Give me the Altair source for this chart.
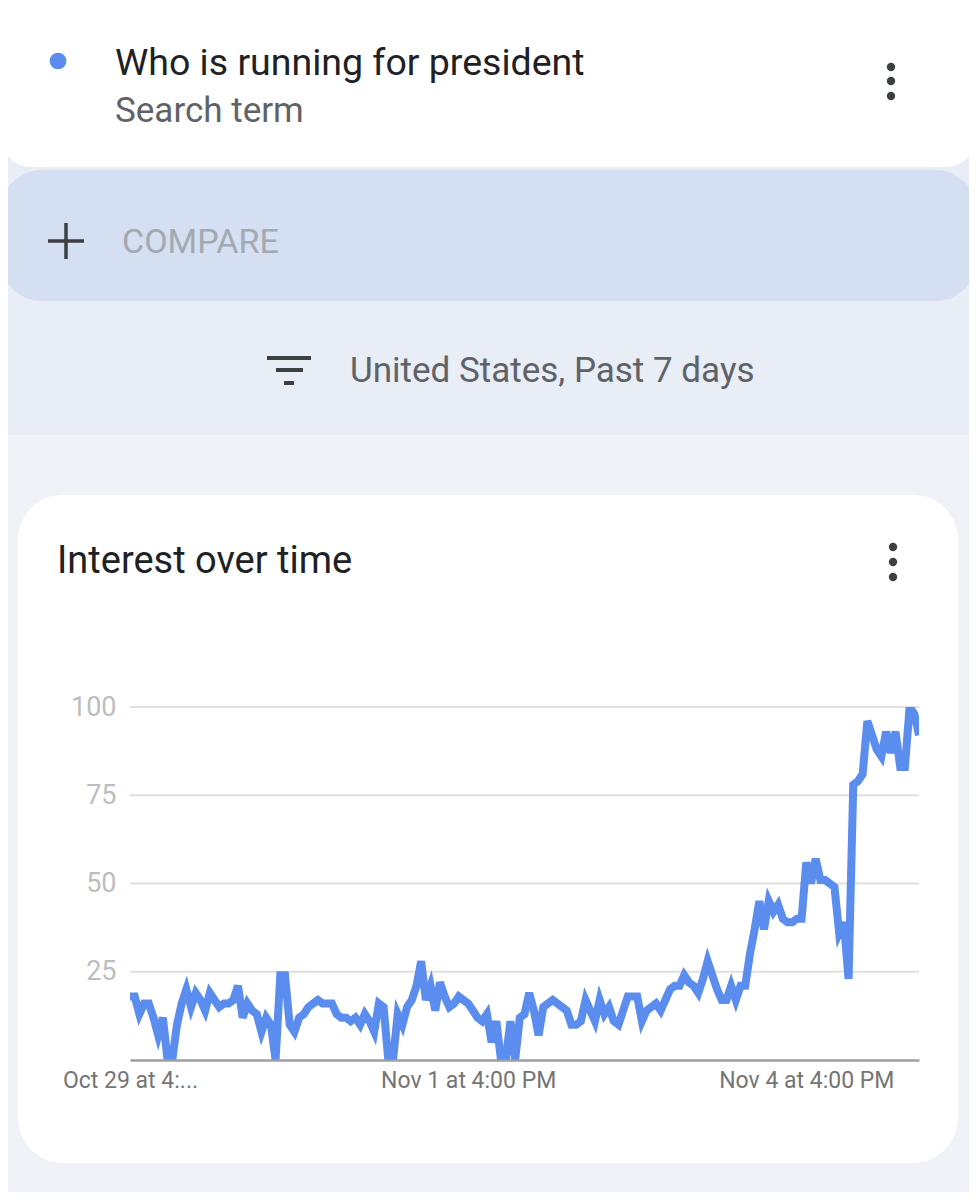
import altair as alt
import pandas as pd

# ---------------- data ----------------
hours = list(range(169))  # hourly steps from Oct 29 4:00 PM
interest = [
    18, 18, 13, 16, 16, 12, 7, 12, 0, 0,
    10, 16, 20, 15, 19, 17, 14, 19, 17, 15,
    16, 16, 17, 21, 12, 16, 14, 13, 8, 12,
    10, 0, 24, 24, 10, 8, 12, 13, 15, 16,
    17, 16, 16, 16, 13, 12, 12, 11, 12, 10,
    13, 11, 8, 16, 15, 0, 0, 13, 10, 15,
    17, 21, 28, 17, 21, 14, 22, 18, 15, 16,
    18, 17, 16, 14, 12, 11, 13, 5, 11, 0,
    0, 11, 0, 12, 13, 19, 14, 7, 15, 16,
    17, 16, 15, 14, 10, 10, 11, 17, 14, 11,
    17, 13, 15, 11, 10, 14, 18, 18, 18, 11,
    14, 15, 16, 14, 17, 20, 21, 21, 24, 22,
    21, 19, 23, 28, 24, 20, 17, 17, 21, 17,
    21, 21, 30, 37, 45, 37, 45, 42, 44, 40,
    39, 39, 40, 40, 56, 50, 57, 51, 51, 50,
    49, 36, 39, 23, 78, 79, 81, 96, 92, 88,
    86, 93, 87, 93, 83, 83, 100, 98, 92,
]
grid_values = [25, 50, 75, 100]
y_tick_values = [0, 25, 50, 75, 100]
x_tick_values = [0, 72, 144]
x_tick_labels = ["Oct 29 at 4:...", "Nov 1 at 4:00 PM", "Nov 4 at 4:00 PM"]

search_term = "Who is running for president"
search_sub = "Search term"
compare_text = "COMPARE"
filter_text = "United States, Past 7 days"
card_title = "Interest over time"

df = pd.DataFrame({"hour": hours, "interest": interest})
gdf = pd.DataFrame({"g": grid_values})

# ---------------- layout helpers ----------------
W, H = 789, 353           # plot area
PL, PT = 122, 699         # plot origin on canvas
CW, CH = 961, 1184        # canvas
OX, OY = PL + 8, PT + 8   # reference-pixel offset of plot origin

BLUE = "#5A8DEE"
DARK = "#3C4043"
one = alt.Data(values=[{"d": 0}])


def X(v):
    return alt.value(v - OX)


def Y(v):
    return alt.value(v - OY)


def rect(x0, x1, y0, y1, color, radius=0):
    return alt.Chart(one).mark_rect(color=color, cornerRadius=radius).encode(
        x=X(x0), x2=X(x1), y=Y(y0), y2=Y(y1))


def text(s, x, y, size, color, weight="normal"):
    return alt.Chart(one).mark_text(
        text=s, align="left", baseline="alphabetic", font="Roboto",
        fontSize=size, color=color, fontWeight=weight).encode(x=X(x), y=Y(y))


def dot(x, y, size, color):
    return alt.Chart(one).mark_circle(size=size, color=color, opacity=1).encode(
        x=X(x), y=Y(y))


def hline(x0, x1, y, color, w):
    return alt.Chart(one).mark_rule(color=color, strokeWidth=w).encode(
        x=X(x0), x2=X(x1), y=Y(y))


def vline(x, y0, y1, color, w):
    return alt.Chart(one).mark_rule(color=color, strokeWidth=w).encode(
        x=X(x), y=Y(y0), y2=Y(y1))


deco = [
    rect(0, 977, 0, 435, "#E9EDF6"),
    rect(0, 977, -40, 167, "#FFFFFF", 32),
    rect(0, 977, 170, 301, "#D4DFF1", 42),
    rect(18, 958, 495, 1163, "#FFFFFF", 45),
    dot(58, 61, 280, BLUE),
    text(search_term, 115, 75, 37.5, "#202124"),
    text(search_sub, 115, 122, 35, "#5F6368"),
    dot(891, 67, 70, DARK), dot(891, 81, 70, DARK), dot(891, 96, 70, DARK),
    hline(48, 84, 241, DARK, 3.5),
    vline(66, 223, 259, DARK, 3.5),
    text(compare_text, 122, 253, 34, "#A3A9B1"),
    hline(267, 311, 358, DARK, 4),
    hline(276, 303, 370, DARK, 4),
    hline(284, 294, 383, DARK, 4),
    text(filter_text, 350, 382, 35, "#5F6368"),
    text(card_title, 57, 573, 38, "#202124"),
    dot(893, 547, 70, DARK), dot(893, 562, 70, DARK), dot(893, 577, 70, DARK),
]

label_expr = " : ".join(
    f"datum.value == {v} ? '{l}'" for v, l in zip(x_tick_values, x_tick_labels)
) + " : ''"

x_enc = alt.X(
    "hour:Q",
    scale=alt.Scale(domain=[0, 168], nice=False, zero=False),
    axis=alt.Axis(values=x_tick_values, labelExpr=label_expr, title=None,
                  grid=False, ticks=False, domain=True, domainColor="#9E9E9E",
                  domainWidth=2.5, labelFont="Roboto", labelFontSize=23,
                  labelColor="#757575", labelPadding=9, labelFlush=False,
                  labelOverlap=False, zindex=1),
)
y_enc = alt.Y(
    "interest:Q",
    scale=alt.Scale(domain=[0, 100], nice=False),
    axis=alt.Axis(values=y_tick_values,
                  labelExpr="datum.value == 0 ? '' : datum.label",
                  title=None, grid=False, ticks=False, domain=False,
                  labelFont="Roboto", labelFontSize=27, labelColor="#BDBDBD",
                  labelPadding=14, zindex=1),
)

grid = alt.Chart(gdf).mark_rule(color="#E0E0E0", strokeWidth=2).encode(
    y=alt.Y("g:Q"), x=alt.value(0), x2=alt.value(W))

line = alt.Chart(df).mark_line(color=BLUE, strokeWidth=8, clip=True).encode(
    x=x_enc, y=y_enc)

chart = alt.layer(*deco, grid, line).properties(
    width=W, height=H,
    padding={"left": PL, "top": PT, "right": CW - PL - W, "bottom": CH - PT - H},
    autosize=alt.AutoSizeParams(type="none"),
    background="#F0F2F8",
).configure_view(stroke=None)

chart.save("out.html", embed_options={"renderer": "svg", "actions": False})
